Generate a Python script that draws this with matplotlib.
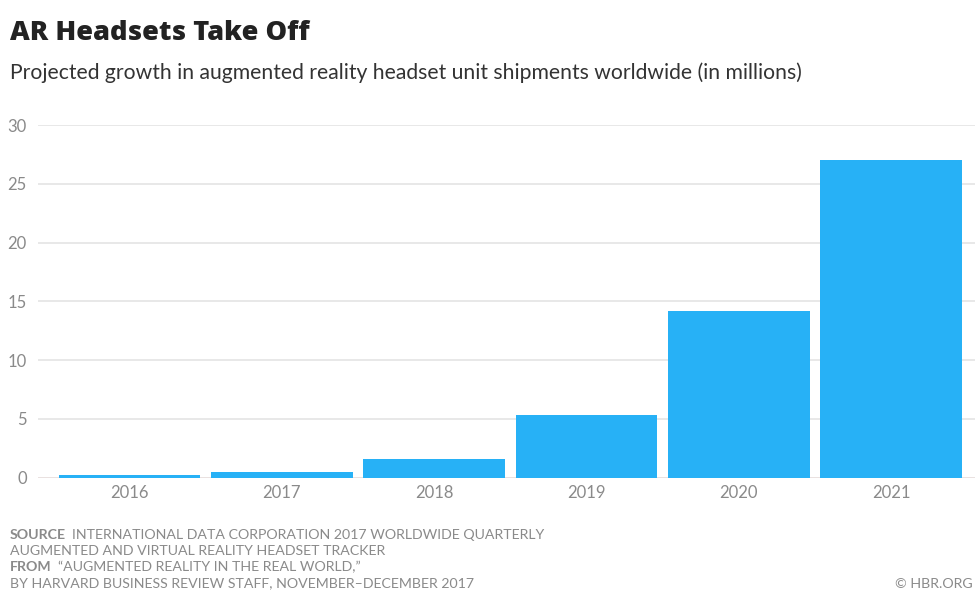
import matplotlib

matplotlib.use("Agg")
import matplotlib.pyplot as plt  # noqa: E402

# данные с графика HBR
years = ["2016", "2017", "2018", "2019", "2020", "2021"]
shipments = [0.2, 0.5, 1.6, 5.3, 14.2, 27.0]
y_ticks = [0, 5, 10, 15, 20, 25, 30]

title = "AR Headsets Take Off"
subtitle = "Projected growth in augmented reality headset unit shipments worldwide (in millions)"
source_lines = [
    ("SOURCE", "INTERNATIONAL DATA CORPORATION 2017 WORLDWIDE QUARTERLY"),
    ("", "AUGMENTED AND VIRTUAL REALITY HEADSET TRACKER"),
    ("FROM", "\u201cAUGMENTED REALITY IN THE REAL WORLD,\u201d"),
    ("", "BY HARVARD BUSINESS REVIEW STAFF, NOVEMBER\u2013DECEMBER 2017"),
]

W, H = 975, 593
BAR = "#27b1f6"
GRAY = "#8a8a8a"
plt.rcParams["font.family"] = ["Lato", "DejaVu Sans"]

fig = plt.figure(figsize=(W / 100, H / 100), dpi=100)
ax = fig.add_axes([38 / W, 1 - 477.7 / H, 1 - 38 / W, (477.7 - 125) / H])

x = range(len(years))
ax.bar(x, shipments, width=0.93, color=BAR, zorder=3)
ax.set_xlim(-0.6, 5.55)
ax.set_ylim(0, 30)
ax.set_yticks(y_ticks)
ax.set_xticks(list(x))
ax.set_xticklabels(years)
ax.grid(axis="y", color="#e4e4e4", linewidth=1.2, zorder=0)
ax.axhline(0, color="#f0c8c0", linewidth=1, zorder=2)
for s in ax.spines.values():
    s.set_visible(False)
ax.tick_params(length=0, labelsize=12, labelcolor=GRAY)
ax.tick_params(axis="y", pad=8)
ax.tick_params(axis="x", pad=5)

def px(xp, yp):
    return xp / W, 1 - yp / H

fig.text(*px(10, 40), title, fontsize=19.6, fontweight="heavy", color="#222222",
         family=["Open Sans", "DejaVu Sans"])
fig.text(*px(10, 79), subtitle, fontsize=15.2, color="#333333")

for i, (head, body) in enumerate(source_lines):
    yb = 539 + i * 16
    if head:
        t = fig.text(*px(10, yb), head, fontsize=10.2, fontweight="bold", color=GRAY)
        fig.canvas.draw()
        bb = t.get_window_extent()
        fig.text(bb.x1 / W + 6 / W, 1 - yb / H, body, fontsize=10.2, color=GRAY)
    else:
        fig.text(*px(10, yb), body, fontsize=10.2, color=GRAY)

# в оригинале подпись обрезана краем, здесь оставляем целиком
fig.text(*px(973, 588), "\u00a9 HBR.ORG", fontsize=10.2, color=GRAY, ha="right")

fig.savefig("out.png", dpi=100)
